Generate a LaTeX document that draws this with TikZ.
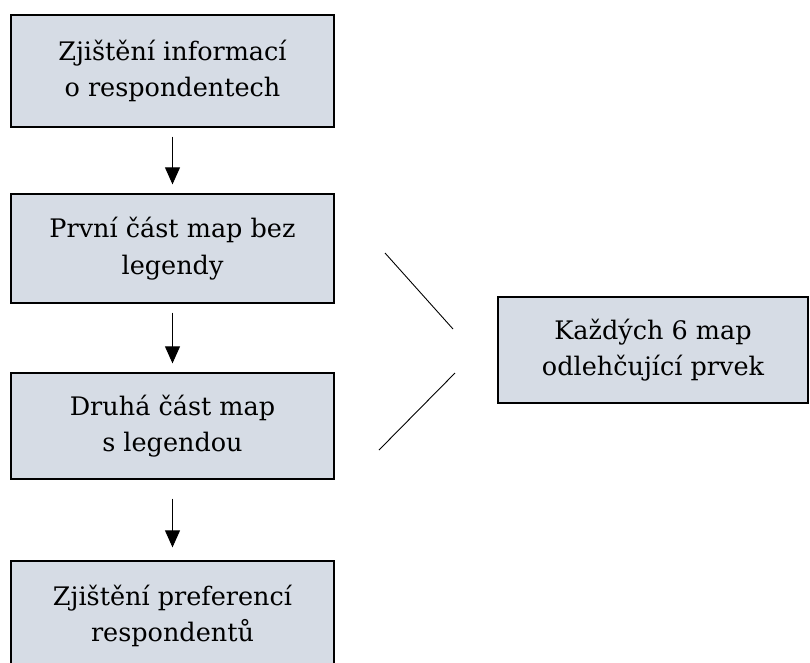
\documentclass[tikz,border=0pt]{standalone}
\usepackage{fontspec}
\setmainfont{DejaVu Serif}
\usetikzlibrary{arrows.meta}
\definecolor{boxfill}{RGB}{214,220,229}
\tikzset{
  flowbox/.style={draw=black, line width=1.3pt, fill=boxfill, rectangle,
    minimum width=323pt, minimum height=109pt, inner sep=0pt, align=center,
    font=\fontsize{25.5}{36.5}\selectfont},
  sidebox/.style={flowbox, minimum width=310pt, minimum height=106pt},
  flowarrow/.style={line width=0.9pt, -{Triangle[width=15pt,length=17pt]},
    shorten <=9pt, shorten >=9pt},
  sideline/.style={line width=0.9pt}
}
\begin{document}
\begin{tikzpicture}[x=1pt,y=-1pt]
\useasboundingbox (0,0) rectangle (810,662);
\node[flowbox, minimum height=112pt] (b1) at (172.5,71) {Zjištění informací\\o respondentech};
\node[flowbox] (b2) at (172.5,248.5) {První část map bez\\legendy};
\node[flowbox, minimum height=106pt] (b3) at (172.5,426) {Druhá část map\\s legendou};
\node[flowbox, minimum height=110pt] (b4) at (172.5,616) {Zjištění preferencí\\respondentů};
\node[sidebox] (r) at (653,350) {Každých 6 map\\odlehčující prvek};
\draw[flowarrow] (b1.south) -- (b2.north);
\draw[flowarrow] (b2.south) -- (b3.north);
\draw[flowarrow, shorten <=19pt, shorten >=13pt] (b3.south) -- (b4.north);
\coordinate (u1) at (385,253);
\coordinate (u2) at (453,329);
\coordinate (l1) at (455,373);
\coordinate (l2) at (379,450);
\draw[sideline] (u1) -- (u2);
\draw[sideline] (l1) -- (l2);
\end{tikzpicture}
\end{document}
